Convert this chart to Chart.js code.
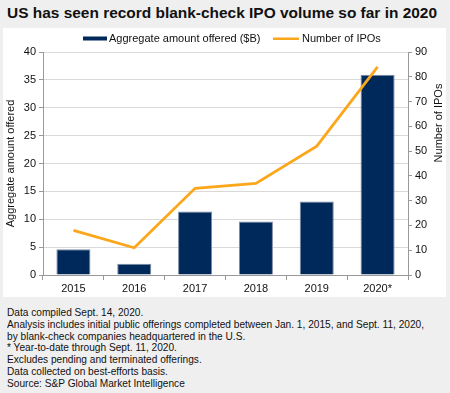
<!DOCTYPE html>
<html><head><meta charset="utf-8">
<script src="https://cdn.jsdelivr.net/npm/chart.js@4"></script>
<style>
html,body{margin:0;padding:0;background:#efefef;width:450px;height:393px;overflow:hidden;font-family:"Liberation Sans",Arial,sans-serif;}
#title{position:absolute;left:7px;top:4px;font-size:15.5px;font-weight:bold;color:#111;white-space:nowrap;transform-origin:0 0;}
#panel{position:absolute;left:3px;top:28px;width:443px;height:269px;background:#fff;}
#notes{position:absolute;left:7px;top:307px;font-size:10.7px;line-height:11.8px;color:#111;white-space:nowrap;transform-origin:0 0;}
</style></head>
<body>
<div id="title">US has seen record blank-check IPO volume so far in 2020</div>
<div id="panel"><canvas id="c" width="443" height="269"></canvas></div>
<div id="notes"><span>Data compiled Sept. 14, 2020.</span><br><span id="longline">Analysis includes initial public offerings completed between Jan. 1, 2015, and Sept. 11, 2020,</span><br><span>by blank-check companies headquartered in the U.S.</span><br><span>* Year-to-date through Sept. 11, 2020.</span><br><span>Excludes pending and terminated offerings.</span><br><span>Data collected on best-efforts basis.</span><br><span>Source: S&amp;P Global Market Intelligence</span></div>
<script>
const categories = ["2015","2016","2017","2018","2019","2020*"];
const amountOffered = [4.6, 2.0, 11.4, 9.6, 13.2, 35.9];
const numberOfIPOs = [18, 11, 35, 37, 52, 84];
const leftTicks = [0,5,10,15,20,25,30,35,40];
const rightTicks = [0,10,20,30,40,50,60,70,80,90];

// fit title and notes widths to the reference
const t = document.getElementById('title');
t.style.transform = 'scaleX(' + (430 / t.getBoundingClientRect().width) + ')';
const ll = document.getElementById('longline');
document.getElementById('notes').style.transform = 'scaleX(' + (417 / ll.getBoundingClientRect().width) + ')';

const FONT = "'Liberation Sans', Arial, sans-serif";
const font = {family:FONT, size:11};

const customLegend = {
  id:'customLegend',
  afterDraw(chart){
    const ctx = chart.ctx;
    ctx.save();
    ctx.font = '11px ' + FONT;
    ctx.textBaseline = 'middle';
    ctx.fillStyle = '#111';
    const ds = chart.data.datasets;
    const y = 10.5;
    // bar item
    ctx.fillStyle = ds[0].backgroundColor;
    ctx.fillRect(80, y - 2, 24, 4);
    ctx.fillStyle = '#111';
    ctx.fillText(ds[0].label, 106, y);
    // line item
    ctx.fillStyle = ds[1].borderColor;
    ctx.fillRect(270, y - 1, 26, 2.5);
    ctx.fillStyle = '#111';
    ctx.fillText(ds[1].label, 299, y);
    // right axis title, reading bottom-to-top
    ctx.translate(436, 95);
    ctx.rotate(-Math.PI/2);
    ctx.textAlign = 'center';
    ctx.fillText('Number of IPOs', 0, 0);
    ctx.restore();
  }
};

new Chart(document.getElementById('c'), {
  data: {
    labels: categories,
    datasets: [
      {type:'bar', label:'Aggregate amount offered ($B)', data: amountOffered, yAxisID:'y',
       backgroundColor:'#00295b', borderColor:'#7d8ba3', borderWidth:1, barPercentage:0.56, categoryPercentage:1, order:2},
      {type:'line', label:'Number of IPOs', data: numberOfIPOs, yAxisID:'y1',
       borderColor:'#fca71b', backgroundColor:'#fca71b', borderWidth:2.75, pointRadius:0, tension:0, order:1}
    ]
  },
  plugins:[customLegend],
  options: {
    responsive:false, animation:false,
    layout:{padding:{top:24,right:0,left:1,bottom:0}},
    plugins:{
      legend:{display:false},
      tooltip:{enabled:false}
    },
    scales:{
      x:{offset:true, grid:{offset:true, drawOnChartArea:false, drawTicks:true, tickLength:5, color:'#999'},
         border:{color:'#999'}, ticks:{font:font, color:'#111', padding:2},
         afterFit:(s)=>{s.height = 22;}},
      y:{position:'left', min:0, max:40, afterBuildTicks:(s)=>{s.ticks=leftTicks.map(v=>({value:v}));},
         grid:{color:'#d9d9d9', tickLength:4, tickColor:'#999'}, border:{color:'#999'},
         ticks:{font:font, color:'#111', padding:3},
         title:{display:true, text:'Aggregate amount offered', font:font, color:'#111', padding:0},
         afterFit:(s)=>{s.width = 39;}},
      y1:{position:'right', min:0, max:90, afterBuildTicks:(s)=>{s.ticks=rightTicks.map(v=>({value:v}));},
         grid:{drawOnChartArea:false, tickLength:4, color:'#999'}, border:{color:'#999'},
         ticks:{font:font, color:'#111', padding:3},
         afterFit:(s)=>{s.width = 38;}}
    }
  }
});
</script>
</body></html>
